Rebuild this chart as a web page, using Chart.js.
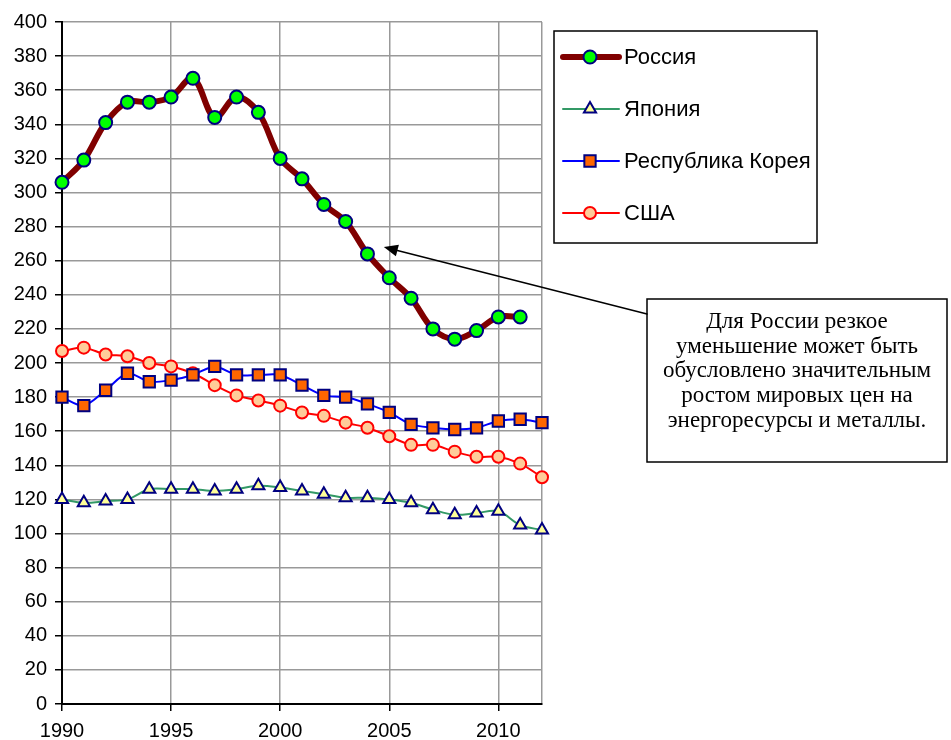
<!DOCTYPE html>
<html lang="ru">
<head>
  <meta charset="UTF-8">
  <title>Россия, Япония, Корея, США</title>
  <script src="https://cdn.jsdelivr.net/npm/chart.js"></script>
  <style>
    body { margin: 0; background: #fff; }
  </style>
</head>
<body>
  <canvas id="chart" width="951" height="740"></canvas>

  <script>
    // values
    const years = [1990, 1991, 1992, 1993, 1994, 1995, 1996, 1997, 1998, 1999, 2000, 2001,
                   2002, 2003, 2004, 2005, 2006, 2007, 2008, 2009, 2010, 2011, 2012];
    const russia = [306, 319, 341, 353, 353, 356, 367, 344, 356, 347, 320, 308,
                    293, 283, 264, 250, 238, 220, 214, 219, 227, 227, null];
    const japan = [120, 118, 119, 120, 126, 126, 126, 125, 126, 128, 127, 125,
                   123, 121, 121, 120, 118, 114, 111, 112, 113, 105, 102];
    const korea = [180, 175, 184, 194, 189, 190, 193, 198, 193, 193, 193, 187,
                   181, 180, 176, 171, 164, 162, 161, 162, 166, 167, 165];
    const usa = [207, 209, 205, 204, 200, 198, 194, 187, 181, 178, 175, 171,
                 169, 165, 162, 157, 152, 152, 148, 145, 145, 141, 133];

    const xTicks = [1990, 1995, 2000, 2005, 2010, 2012];
    const seriesNames = ['Россия', 'Япония', 'Республика Корея', 'США'];
    const note = ['Для России резкое', 'уменьшение может быть', 'обусловлено значительным',
                  'ростом мировых цен на', 'энергоресурсы и металлы.'];

    function pts(arr) {
      return years.map((y, i) => ({ x: y, y: arr[i] }));
    }

    // legend box, annotation box and arrow
    const extras = {
      id: 'extras',
      afterDraw(chart) {
        const ctx = chart.ctx;
        const xs = chart.scales.x, ys = chart.scales.y;
        ctx.save();

        // legend
        ctx.lineWidth = 1.5;
        ctx.strokeStyle = '#000';
        ctx.strokeRect(554, 31, 263, 212);
        ctx.font = '22px "Liberation Sans", Arial, sans-serif';
        ctx.textBaseline = 'middle';
        ctx.textAlign = 'left';
        chart.data.datasets.forEach((ds, i) => {
          const y = 57 + i * 52;
          ctx.strokeStyle = ds.borderColor;
          ctx.lineWidth = ds.borderWidth;
          ctx.lineCap = 'round';
          ctx.beginPath();
          ctx.moveTo(563, y);
          ctx.lineTo(619, y);
          ctx.stroke();
          ctx.fillStyle = ds.pointBackgroundColor;
          ctx.strokeStyle = ds.pointBorderColor;
          ctx.lineWidth = ds.pointBorderWidth;
          Chart.helpers.drawPoint(ctx, {
            pointStyle: ds.pointStyle, radius: ds.pointRadius, rotation: 0,
            borderWidth: ds.pointBorderWidth
          }, 590, y);
          ctx.fillStyle = '#000';
          ctx.fillText(ds.label, 624, y + 1);
        });

        // note box
        ctx.lineWidth = 1.5;
        ctx.strokeStyle = '#000';
        ctx.strokeRect(647, 299, 300, 163);
        ctx.fillStyle = '#000';
        ctx.font = '23px "Liberation Serif", "Times New Roman", serif';
        ctx.textAlign = 'center';
        note.forEach((t, i) => ctx.fillText(t, 797, 322 + i * 24.7));

        // arrow pointing at the Russian curve
        const tx = xs.getPixelForValue(2004.75), ty = ys.getPixelForValue(268);
        const sx = 647, sy = 314;
        const a = Math.atan2(ty - sy, tx - sx);
        ctx.strokeStyle = '#000';
        ctx.lineWidth = 1.5;
        ctx.beginPath();
        ctx.moveTo(sx, sy);
        ctx.lineTo(tx - 12 * Math.cos(a), ty - 12 * Math.sin(a));
        ctx.stroke();
        ctx.beginPath();
        ctx.moveTo(tx, ty);
        ctx.lineTo(tx - 14 * Math.cos(a) + 6 * Math.sin(a), ty - 14 * Math.sin(a) - 6 * Math.cos(a));
        ctx.lineTo(tx - 14 * Math.cos(a) - 6 * Math.sin(a), ty - 14 * Math.sin(a) + 6 * Math.cos(a));
        ctx.closePath();
        ctx.fill();
        ctx.restore();
      }
    };

    new Chart(document.getElementById('chart'), {
      type: 'line',
      data: {
        datasets: [
          {
            label: seriesNames[0], data: pts(russia),
            borderColor: '#800000', borderWidth: 6, tension: 0.35,
            pointStyle: 'circle', pointRadius: 6.5,
            pointBackgroundColor: '#00ff00', pointBorderColor: '#000080', pointBorderWidth: 2
          },
          {
            label: seriesNames[1], data: pts(japan),
            borderColor: '#339966', borderWidth: 2, tension: 0.35,
            pointStyle: 'triangle', pointRadius: 7,
            pointBackgroundColor: '#ffff99', pointBorderColor: '#000080', pointBorderWidth: 2
          },
          {
            label: seriesNames[2], data: pts(korea),
            borderColor: '#0000ff', borderWidth: 2, tension: 0.3,
            pointStyle: 'rect', pointRadius: 8,
            pointBackgroundColor: '#ff6600', pointBorderColor: '#000080', pointBorderWidth: 2
          },
          {
            label: seriesNames[3], data: pts(usa),
            borderColor: '#ff0000', borderWidth: 2, tension: 0.3,
            pointStyle: 'circle', pointRadius: 6,
            pointBackgroundColor: '#ffcc99', pointBorderColor: '#ff0000', pointBorderWidth: 2
          }
        ].map(d => Object.assign(d, { clip: false, fill: false }))
      },
      options: {
        responsive: false,
        animation: false,
        layout: { padding: { top: 22, right: 409, left: 0, bottom: 0 } },
        plugins: { legend: { display: false }, tooltip: { enabled: false } },
        scales: {
          x: {
            type: 'linear', min: 1990, max: 2012,
            afterBuildTicks: (axis) => { axis.ticks = xTicks.map(v => ({ value: v })); },
            afterFit: (scale) => { scale.height = 36; },
            ticks: {
              color: '#000', padding: 8, maxRotation: 0, autoSkip: false,
              font: { family: '"Liberation Sans", Arial, sans-serif', size: 20 },
              callback: (v) => (v === 2012 ? '' : String(v))
            },
            grid: {
              color: '#999', lineWidth: 1.5, tickLength: 7, tickWidth: 1.5,
              tickColor: (c) => (c.tick && c.tick.value === 2012 ? 'rgba(0,0,0,0)' : '#000')
            },
            border: { color: '#000', width: 2 }
          },
          y: {
            min: 0, max: 400,
            afterFit: (scale) => { scale.width = 62; },
            ticks: {
              stepSize: 20, color: '#000', padding: 8,
              font: { family: '"Liberation Sans", Arial, sans-serif', size: 20 }
            },
            grid: { color: '#999', lineWidth: 1.5, tickLength: 7, tickWidth: 1.5, tickColor: '#000' },
            border: { color: '#000', width: 2 }
          }
        }
      },
      plugins: [extras]
    });
  </script>
</body>
</html>
